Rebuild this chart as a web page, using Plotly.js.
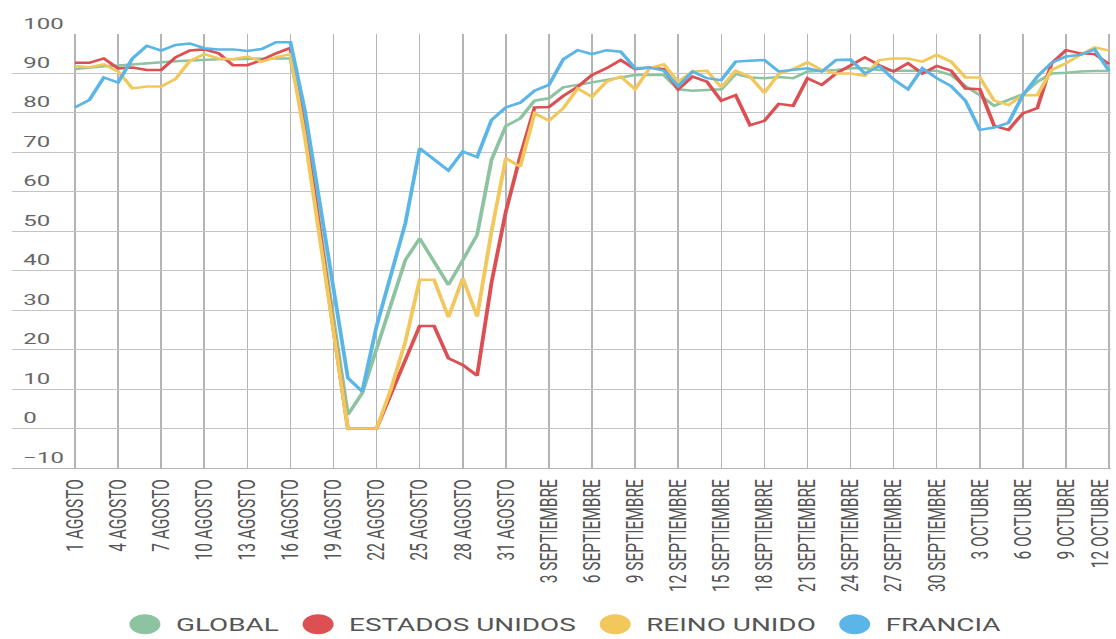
<!DOCTYPE html>
<html>
<head>
<meta charset="utf-8">
<script src="https://cdn.plot.ly/plotly-3.0.1.min.js"></script>
<style>
  html, body { margin: 0; padding: 0; background: #ffffff; overflow: hidden; }
  #wrap { width: 1116px; height: 639px; overflow: hidden; }
  #chart { width: 720px; height: 639px; transform: scaleX(1.55); transform-origin: 0 0; }
</style>
</head>
<body>
<div id="wrap"><div id="chart"></div></div>
<script>
// ---- data ----
const days = [
  "1 AGOSTO","2 AGOSTO","3 AGOSTO","4 AGOSTO","5 AGOSTO","6 AGOSTO","7 AGOSTO","8 AGOSTO","9 AGOSTO","10 AGOSTO",
  "11 AGOSTO","12 AGOSTO","13 AGOSTO","14 AGOSTO","15 AGOSTO","16 AGOSTO","17 AGOSTO","18 AGOSTO","19 AGOSTO","20 AGOSTO",
  "21 AGOSTO","22 AGOSTO","23 AGOSTO","24 AGOSTO","25 AGOSTO","26 AGOSTO","27 AGOSTO","28 AGOSTO","29 AGOSTO","30 AGOSTO",
  "31 AGOSTO","1 SEPTIEMBRE","2 SEPTIEMBRE","3 SEPTIEMBRE","4 SEPTIEMBRE","5 SEPTIEMBRE","6 SEPTIEMBRE","7 SEPTIEMBRE",
  "8 SEPTIEMBRE","9 SEPTIEMBRE","10 SEPTIEMBRE","11 SEPTIEMBRE","12 SEPTIEMBRE","13 SEPTIEMBRE","14 SEPTIEMBRE",
  "15 SEPTIEMBRE","16 SEPTIEMBRE","17 SEPTIEMBRE","18 SEPTIEMBRE","19 SEPTIEMBRE","20 SEPTIEMBRE","21 SEPTIEMBRE",
  "22 SEPTIEMBRE","23 SEPTIEMBRE","24 SEPTIEMBRE","25 SEPTIEMBRE","26 SEPTIEMBRE","27 SEPTIEMBRE","28 SEPTIEMBRE",
  "29 SEPTIEMBRE","30 SEPTIEMBRE","1 OCTUBRE","2 OCTUBRE","3 OCTUBRE","4 OCTUBRE","5 OCTUBRE","6 OCTUBRE","7 OCTUBRE",
  "8 OCTUBRE","9 OCTUBRE","10 OCTUBRE","11 OCTUBRE","12 OCTUBRE"
];

const tickLabels = [
  "1 AGOSTO","4 AGOSTO","7 AGOSTO","10 AGOSTO","13 AGOSTO","16 AGOSTO","19 AGOSTO","22 AGOSTO","25 AGOSTO",
  "28 AGOSTO","31 AGOSTO","3 SEPTIEMBRE","6 SEPTIEMBRE","9 SEPTIEMBRE","12 SEPTIEMBRE","15 SEPTIEMBRE",
  "18 SEPTIEMBRE","21 SEPTIEMBRE","24 SEPTIEMBRE","27 SEPTIEMBRE","30 SEPTIEMBRE","3 OCTUBRE","6 OCTUBRE",
  "9 OCTUBRE","12 OCTUBRE"
];

const seriesNames = ["GLOBAL", "ESTADOS UNIDOS", "REINO UNIDO", "FRANCIA"];

const globalVals = [
  91.1, 91.5, 91.8, 92.0, 92.3, 92.6, 92.9, 93.1, 93.3, 93.5,
  93.6, 93.6, 93.7, 93.7, 93.8, 93.8, 77.0, 52.0, 28.0, 3.5,
  9.0, 20.0, 31.5, 42.7, 48.2, 42.3, 36.4, 42.7, 49.1, 68.1,
  76.7, 78.6, 83.1, 83.7, 86.5, 87.1, 87.7, 88.3, 89.0, 89.6,
  89.6, 89.6, 86.0, 85.6, 85.8, 86.0, 89.9, 89.0, 88.8, 89.1,
  88.8, 90.5, 90.7, 90.9, 91.3, 91.3, 90.9, 90.7, 90.7, 90.7,
  90.7, 89.6, 86.8, 84.5, 81.8, 83.3, 84.7, 87.9, 90.0, 90.2,
  90.5, 90.6, 90.6
];

const usaVals = [
  92.7, 92.7, 93.8, 91.3, 91.5, 90.9, 90.9, 94.1, 95.8, 96.1,
  95.1, 92.1, 92.1, 93.4, 95.1, 96.5, 77.0, 50.0, 25.0, 0.0,
  0.0, 0.0, 8.7, 17.3, 26.0, 26.0, 17.8, 16.1, 13.4, 37.0,
  55.0, 69.0, 81.4, 81.5, 84.3, 86.6, 89.6, 91.3, 93.4, 91.1,
  91.5, 91.1, 86.0, 89.2, 87.9, 83.1, 84.5, 76.9, 78.0, 82.3,
  81.8, 88.8, 87.1, 90.0, 92.1, 94.1, 92.1, 90.5, 92.6, 90.0,
  91.9, 90.7, 86.2, 86.0, 76.7, 75.7, 79.9, 81.2, 92.6, 95.9,
  95.1, 94.9, 92.4
];

const ukVals = [
  91.9, 91.6, 92.3, 90.5, 86.2, 86.7, 86.7, 88.6, 93.2, 94.9,
  93.8, 93.6, 94.3, 93.0, 94.1, 94.9, 74.0, 49.0, 24.0, 0.0,
  0.0, 0.0, 10.0, 22.0, 37.7, 37.7, 28.2, 38.1, 28.4, 50.0,
  68.5, 66.4, 79.9, 78.0, 81.2, 86.2, 84.1, 87.9, 89.2, 86.0,
  91.3, 92.3, 87.9, 90.5, 90.7, 86.5, 90.7, 89.2, 85.1, 89.9,
  91.1, 92.8, 90.9, 90.0, 90.0, 89.4, 93.4, 93.8, 93.8, 93.0,
  94.7, 93.0, 89.0, 89.0, 83.1, 82.0, 84.5, 84.5, 90.9, 92.6,
  94.7, 96.6, 95.8
];

const franceVals = [
  81.4, 83.3, 89.0, 87.7, 93.8, 97.0, 95.8, 97.2, 97.6, 96.4,
  96.1, 96.1, 95.7, 96.2, 97.9, 97.9, 80.7, 58.0, 35.5, 12.8,
  9.4, 26.0, 39.0, 52.0, 71.0, 68.2, 65.4, 70.2, 68.8, 78.2,
  81.4, 82.6, 85.6, 87.1, 93.6, 95.9, 94.9, 95.9, 95.5, 91.3,
  91.5, 90.7, 86.8, 90.5, 88.8, 88.3, 93.0, 93.2, 93.4, 90.5,
  90.9, 91.3, 90.5, 93.4, 93.5, 90.0, 91.9, 88.5, 86.0, 91.3,
  88.8, 86.8, 83.1, 75.7, 76.3, 77.5, 84.5, 89.2, 92.7, 94.3,
  94.7, 96.1, 90.7
];

const seriesColors = ["#8dc3a1", "#dc4f52", "#f2c75c", "#5bb5e6"];

// ---- traces ----
const allVals = [globalVals, usaVals, ukVals, franceVals];
const traces = [];
allVals.forEach(function (vals, k) {
  traces.push({
    type: "scatter", mode: "lines", x: days, y: vals,
    name: seriesNames[k], legendgroup: seriesNames[k], showlegend: false,
    line: { color: seriesColors[k], width: 2.5 },
    hoverinfo: "x+y+name"
  });
});
// legend entries (circle symbols)
seriesNames.forEach(function (nm, k) {
  traces.push({
    type: "scatter", mode: "markers", x: [null], y: [null],
    name: nm, legendgroup: nm, showlegend: true,
    marker: { color: seriesColors[k], size: 16, symbol: "circle",
              line: { color: seriesColors[k], width: 4 } }
  });
});

const layout = {
  width: 720, height: 639,
  margin: { l: 8, r: 3, t: 34, b: 171, autoexpand: false },
  paper_bgcolor: "#ffffff", plot_bgcolor: "#ffffff",
  font: { family: "Roboto, 'Noto Sans', sans-serif", color: "#555555" },
  showlegend: true,
  legend: {
    orientation: "h", x: 0.5, xanchor: "center", y: -0.318, yanchor: "top",
    font: { family: "Roboto, sans-serif", size: 18, color: "#555555" },
    itemclick: false, itemdoubleclick: false
  },
  xaxis: {
    type: "category",
    categoryorder: "array", categoryarray: days,
    range: [-4.36, 72.16],
    tickmode: "array", tickvals: tickLabels, ticktext: tickLabels,
    tickangle: -90,
    tickfont: { family: "Roboto, sans-serif", size: 15.5, color: "#555555" },
    ticks: "", ticklabelstandoff: 4,
    showgrid: true, gridcolor: "#b4b4b4", gridwidth: 1,
    showline: true, linecolor: "#b4b4b4", linewidth: 1,
    zeroline: false, fixedrange: true, automargin: false
  },
  yaxis: {
    range: [-10, 100], tickmode: "linear", tick0: 0, dtick: 10,
    ticklabelposition: "inside top", ticklabeloverflow: "allow",
    tickfont: { family: "Roboto, sans-serif", size: 15.5, color: "#666666" },
    ticks: "", ticklabelstandoff: 4,
    showgrid: true, gridcolor: "#c4c4c4", gridwidth: 1,
    zeroline: false, showline: false, fixedrange: true, automargin: false
  }
};

Plotly.newPlot("chart", traces, layout, { displayModeBar: false, staticPlot: true }).then(function (gd) {
  // keep the last (edge) date label inside the picture, as the original chart does
  const labels = gd.querySelectorAll(".xaxislayer-above .xtick text");
  if (labels.length) {
    const last = labels[labels.length - 1];
    const t = last.getAttribute("transform") || "";
    last.setAttribute("transform", "translate(-6,0) " + t);
  }
});
</script>
</body>
</html>
